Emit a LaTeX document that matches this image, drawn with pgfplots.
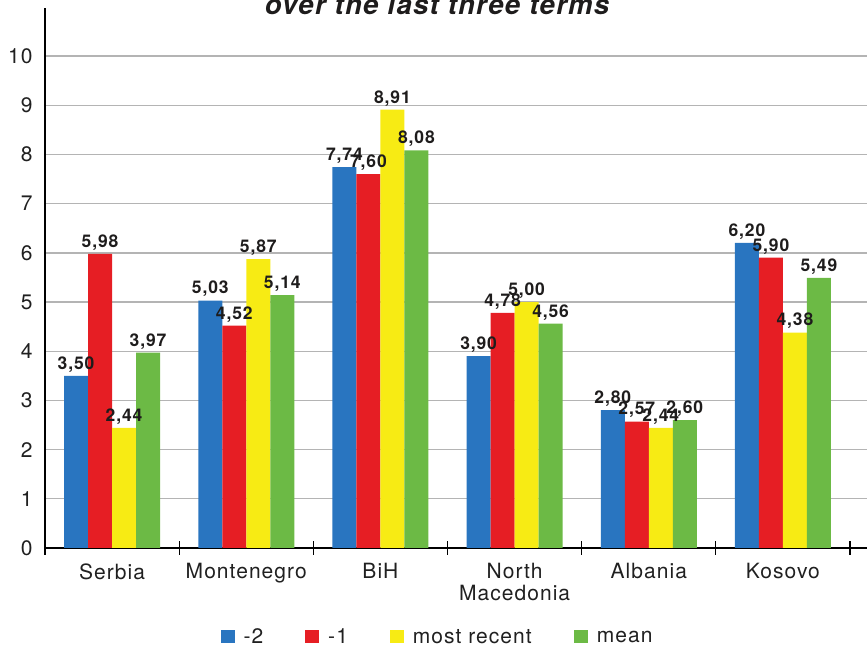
\documentclass[border=0pt]{standalone}
\usepackage{fontspec}
\setmainfont{TeX Gyre Heros}[LetterSpace=5]
\usepackage{pgfplots}
\usepackage{pgfplotstable}
\pgfplotsset{compat=1.18}

\definecolor{cBlue}{RGB}{41,117,192}
\definecolor{cRed}{RGB}{230,30,36}
\definecolor{cYellow}{RGB}{247,235,20}
\definecolor{cGreen}{RGB}{108,186,69}
\definecolor{labelcol}{RGB}{30,28,28}
\definecolor{tickcol}{RGB}{32,32,32}
\definecolor{gridcol}{RGB}{180,180,180}

% scores per country: two terms ago, previous term, most recent term, mean
\pgfplotstableread{
x  m2    m1    recent  mean
0  3.50  5.98  2.44    3.97
1  5.03  4.52  5.87    5.14
2  7.74  7.60  8.91    8.08
3  3.90  4.78  5.00    4.56
4  2.80  2.57  2.44    2.60
5  6.20  5.90  4.38    5.49
}\scores

\begin{document}
\begin{tikzpicture}[x=1pt,y=1pt]
\begin{axis}[
  at={(0,0)}, anchor=south west,
  scale only axis, width=822pt, height=540pt,
  xmin=-0.5, xmax=5.6265, ymin=0, ymax=10.976,
  axis x line=bottom, axis y line=left,
  axis line style={black, line width=1.2pt, -},
  ybar=0pt, bar width=24pt,
  xtick={0,...,5},
  xticklabels={Serbia, Montenegro, BiH, {North\\Macedonia}, Albania, Kosovo},
  minor xtick={-0.5,0.5,...,5.5},
  ytick={0,...,10},
  major tick length=0pt, minor tick length=14pt, tick align=center,
  minor tick style={black, line width=1.2pt},
  ymajorgrids, grid style={gridcol, line width=1.4pt},
  xticklabel style={font=\fontsize{21}{22}\selectfont, text=tickcol, align=center, yshift=-12pt},
  yticklabel style={font=\fontsize{21}{24}\selectfont, text=tickcol, xshift=-9pt},
  /pgf/number format/assume math mode=true,
  nodes near coords={\pgfmathprintnumber[fixed,fixed zerofill,precision=2,use comma,assume math mode=true]{\pgfplotspointmeta}},
  every node near coord/.append style={font=\fontsize{17.5}{19}\selectfont\bfseries, text=labelcol},
  legend columns=4,
  legend style={draw=none, fill=none, at={(0.4775,-0.165)}, anchor=center,
    font=\fontsize{21}{24}\selectfont, text=tickcol,
    /tikz/every odd column/.append style={column sep=7pt},
    /tikz/every even column/.append style={column sep=40pt}},
  legend image code/.code={\fill[#1] (0pt,-6pt) rectangle (14pt,7pt);},
]
\addplot[fill=cBlue, draw=none] table[x=x, y=m2] {\scores};
\addplot[fill=cRed, draw=none] table[x=x, y=m1] {\scores};
\addplot[fill=cYellow, draw=none] table[x=x, y=recent] {\scores};
\addplot[fill=cGreen, draw=none] table[x=x, y=mean] {\scores};
\legend{-2, -1, most recent, mean}
\end{axis}
\node[anchor=base, font=\fontsize{27.5}{30}\selectfont\bfseries\itshape, text=labelcol] at (392,533) {over the last three terms};
\pgfresetboundingbox
\useasboundingbox (-45,-99) rectangle (822,548);
\end{tikzpicture}
\end{document}
